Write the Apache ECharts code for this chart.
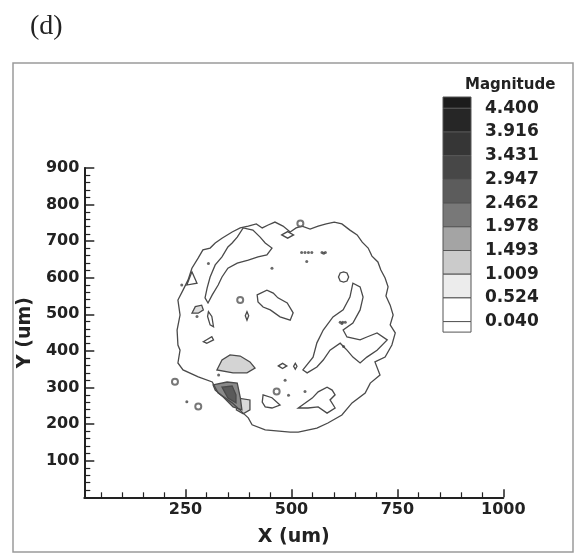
<!DOCTYPE html>
<html>
<head>
<meta charset="utf-8">
<script src="https://cdn.jsdelivr.net/npm/echarts@6/dist/echarts.min.js"></script>
<style>
html, body { margin: 0; padding: 0; background: #fff; }
#chart { width: 577px; height: 554px; }
</style>
</head>
<body>
<div id="chart"></div>
<script>
// axis ticks (um)
const xTicks = [250, 500, 750, 1000];
const xMinorTicks = [50, 100, 150, 200, 300, 350, 400, 450, 550, 600, 650, 700, 800, 850, 900, 950];

// contour levels of the legend, top to bottom
const levels = ['4.400', '3.916', '3.431', '2.947', '2.462', '1.978', '1.493', '1.009', '0.524', '0.040'];

// contour outlines, [x um, y um]
const outerContour = [[232,416],[230,457],[237,498],[232,539],[244,566],[256,594],[265,626],[280,654],[291,676],[308,681],[320,695],[336,708],[360,725],[379,736],[398,741],[417,747],[431,736],[445,744],[461,752],[480,741],[497,725],[511,736],[525,741],[544,733],[563,741],[582,747],[601,752],[619,747],[638,730],[655,717],[667,697],[681,681],[690,659],[704,643],[711,621],[721,599],[728,575],[723,550],[733,525],[740,498],[733,471],[745,449],[737,416],[721,383],[697,370],[709,334],[686,312],[674,285],[643,258],[619,225],[586,203],[560,189],[516,178],[497,178],[438,184],[407,198],[398,217],[386,230],[360,258],[327,285],[313,315],[280,329],[244,348],[232,367],[237,402]];
const armContour = [[303,531],[313,553],[327,580],[336,602],[350,626],[372,640],[398,648],[421,657],[442,662],[454,681],[438,695],[426,711],[409,730],[386,736],[372,711],[360,695],[350,684],[336,657],[320,635],[308,602],[301,572],[296,545]];
const centerBlob = [[419,553],[442,566],[457,558],[468,545],[490,531],[504,504],[497,484],[473,493],[450,512],[433,520],[421,534]];
const rightArm = [[527,348],[551,383],[560,422],[575,457],[598,493],[622,512],[638,547],[645,585],[662,575],[669,547],[662,512],[645,476],[622,457],[631,438],[662,430],[678,438],[702,449],[726,430],[702,402],[678,383],[662,367],[645,383],[631,402],[615,421],[591,402],[575,375],[560,356],[537,340]];
const birdShape = [[516,244],[549,271],[563,288],[584,301],[596,293],[603,280],[591,266],[603,244],[584,230],[563,247],[539,244]];
const lowerBlob = [[433,280],[454,272],[473,252],[454,244],[438,247],[431,260]];
const leftTriangle = [[265,616],[277,585],[253,580]];
const leftIsland = [[304,507],[312,494],[316,466],[308,471],[302,494]];
const leftDash = [[292,425],[312,439],[316,430],[300,421]];
const topEllipse = [[477,717],[491,726],[505,717],[491,708]];
const rightRing = [[611,602],[615,613],[623,616],[631,613],[635,602],[631,591],[623,588],[615,591]];
const midEllipse = [[391,496],[395,507],[399,496],[395,484]];
const lowRing = [[469,359],[479,366],[489,359],[479,352]];
const lowDrop = [[505,358],[509,366],[513,358],[509,350]];
// filled patches (magnitude above 0.524)
const grayPatchA = [[324,348],[336,375],[355,389],[379,386],[402,370],[414,353],[395,340],[362,340]];
const grayPatchB = [[265,503],[273,521],[288,525],[292,512],[280,503]];
const grayPatchC = [[374,271],[402,266],[402,239],[386,228],[370,239]];
const darkPatch = [[315,307],[348,315],[372,312],[379,274],[383,239],[362,247],[339,274],[320,293]];
const darkCore = [[336,301],[360,304],[369,280],[369,258],[350,271]];
// isolated specks and tiny rings
const specks = [[304,639],[241,580],[454,626],[536,644],[576,667],[619,475],[623,412],[485,320],[493,279],[532,289],[253,261],[328,334],[277,494],[524,669],[532,669],[540,669],[548,669],[572,669],[580,669],[615,478],[621,478],[627,478]];
const rings = [[225,316],[280,248],[379,539],[465,289],[521,748]];

const legendShades = ['#1c1c1c', '#262626', '#363636', '#474747', '#5c5c5c', '#787878', '#a4a4a4', '#cbcbcb', '#ececec', '#ffffff', '#ffffff'];

const shapes = [
  { pts: grayPatchA, fill: '#d4d4d4' },
  { pts: grayPatchB, fill: '#dedede' },
  { pts: grayPatchC, fill: '#d9d9d9' },
  { pts: darkPatch, fill: '#8a8a8a' },
  { pts: darkCore, fill: '#5a5a5a' },
  { pts: outerContour, fill: 'none' },
  { pts: armContour, fill: 'none' },
  { pts: centerBlob, fill: 'none' },
  { pts: rightArm, fill: 'none' },
  { pts: birdShape, fill: 'none' },
  { pts: lowerBlob, fill: 'none' },
  { pts: leftTriangle, fill: 'none' },
  { pts: leftIsland, fill: 'none' },
  { pts: leftDash, fill: 'none' },
  { pts: topEllipse, fill: 'none' },
  { pts: rightRing, fill: 'none' },
  { pts: midEllipse, fill: 'none' },
  { pts: lowRing, fill: 'none' },
  { pts: lowDrop, fill: 'none' }
];

const FONT = '"DejaVu Sans", "Liberation Sans", sans-serif';
const INK = '#222';

// legend swatches + labels
const lgX = 443, lgW = 28, lgTop = 97, lgY0 = 108.3, lgStep = 23.7;
const legendEls = [];
for (let i = 0; i <= levels.length; i++) {
  const y0 = i === 0 ? lgTop : lgY0 + (i - 1) * lgStep;
  const y1 = i === levels.length ? lgY0 + (levels.length - 1) * lgStep + 10.5 : lgY0 + i * lgStep;
  legendEls.push({
    type: 'rect',
    shape: { x: lgX, y: y0, width: lgW, height: y1 - y0 },
    style: { fill: legendShades[i], stroke: '#555', lineWidth: 1 }
  });
}
levels.forEach((t, i) => {
  legendEls.push({
    type: 'text',
    style: { text: t, x: 485, y: lgY0 + i * lgStep, font: 'bold 17px ' + FONT, fill: INK, verticalAlign: 'middle' }
  });
});
legendEls.push({
  type: 'text',
  style: { text: 'Magnitude', x: 465, y: 85, font: 'bold 15px ' + FONT, fill: INK, verticalAlign: 'middle' }
});

var myChart = echarts.init(document.getElementById('chart'));
var option = {
  animation: false,
  backgroundColor: '#fff',
  title: {
    text: '(d)',
    left: 25,
    top: 8,
    textStyle: { fontFamily: '"Liberation Serif", serif', fontWeight: 'normal', fontSize: 28, color: INK }
  },
  grid: { left: 84.3, top: 167.9, width: 419, height: 329.4 },
  xAxis: [{
    type: 'value',
    min: 11,
    max: 1000,
    axisLine: { lineStyle: { color: INK, width: 2 } },
    axisTick: { inside: true, length: 8, customValues: xTicks, lineStyle: { color: INK, width: 1.5 } },
    axisLabel: { customValues: xTicks, formatter: v => String(v), margin: 5, fontFamily: FONT, fontWeight: 'bold', fontSize: 16, color: INK },
    splitLine: { show: false },
    name: 'X (um)',
    nameLocation: 'middle',
    nameGap: 30,
    nameTextStyle: { fontFamily: FONT, fontWeight: 'bold', fontSize: 19, color: INK }
  }, {
    type: 'value',
    min: 11,
    max: 1000,
    position: 'bottom',
    axisLine: { show: false },
    axisTick: { inside: true, length: 5, customValues: xMinorTicks, lineStyle: { color: INK, width: 1.2 } },
    axisLabel: { show: false },
    splitLine: { show: false }
  }],
  yAxis: {
    type: 'value',
    min: 0,
    max: 900,
    interval: 100,
    axisLine: { show: true, lineStyle: { color: INK, width: 2 } },
    axisTick: { inside: true, length: 10, lineStyle: { color: INK, width: 1.5 } },
    minorTick: { show: true, splitNumber: 5, length: 6, lineStyle: { color: INK, width: 1.2 } },
    axisLabel: { showMinLabel: false, margin: 5, fontFamily: FONT, fontWeight: 'bold', fontSize: 16, color: INK },
    splitLine: { show: false },
    name: 'Y (um)',
    nameLocation: 'middle',
    nameRotate: 90,
    nameGap: 44,
    nameTextStyle: { fontFamily: FONT, fontWeight: 'bold', fontSize: 19, color: INK }
  },
  series: [{
    type: 'custom',
    coordinateSystem: 'cartesian2d',
    clip: true,
    data: shapes.map(s => s.pts[0]),
    renderItem: function (params, api) {
      const s = shapes[params.dataIndex];
      return {
        type: 'polygon',
        shape: { points: s.pts.map(p => api.coord(p)) },
        style: { fill: s.fill, stroke: '#4a4a4a', lineWidth: 1.3 }
      };
    }
  }, {
    type: 'scatter',
    data: specks,
    symbolSize: 3,
    itemStyle: { color: '#444' }
  }, {
    type: 'scatter',
    data: rings,
    symbol: 'emptyCircle',
    symbolSize: 6,
    itemStyle: { color: '#555', borderWidth: 1.2 }
  }],
  graphic: [{
    type: 'rect',
    shape: { x: 13, y: 63, width: 560, height: 489 },
    style: { fill: 'none', stroke: '#9a9a9a', lineWidth: 1.5 },
    silent: true
  }].concat(legendEls)
};
myChart.setOption(option);
</script>
</body>
</html>
